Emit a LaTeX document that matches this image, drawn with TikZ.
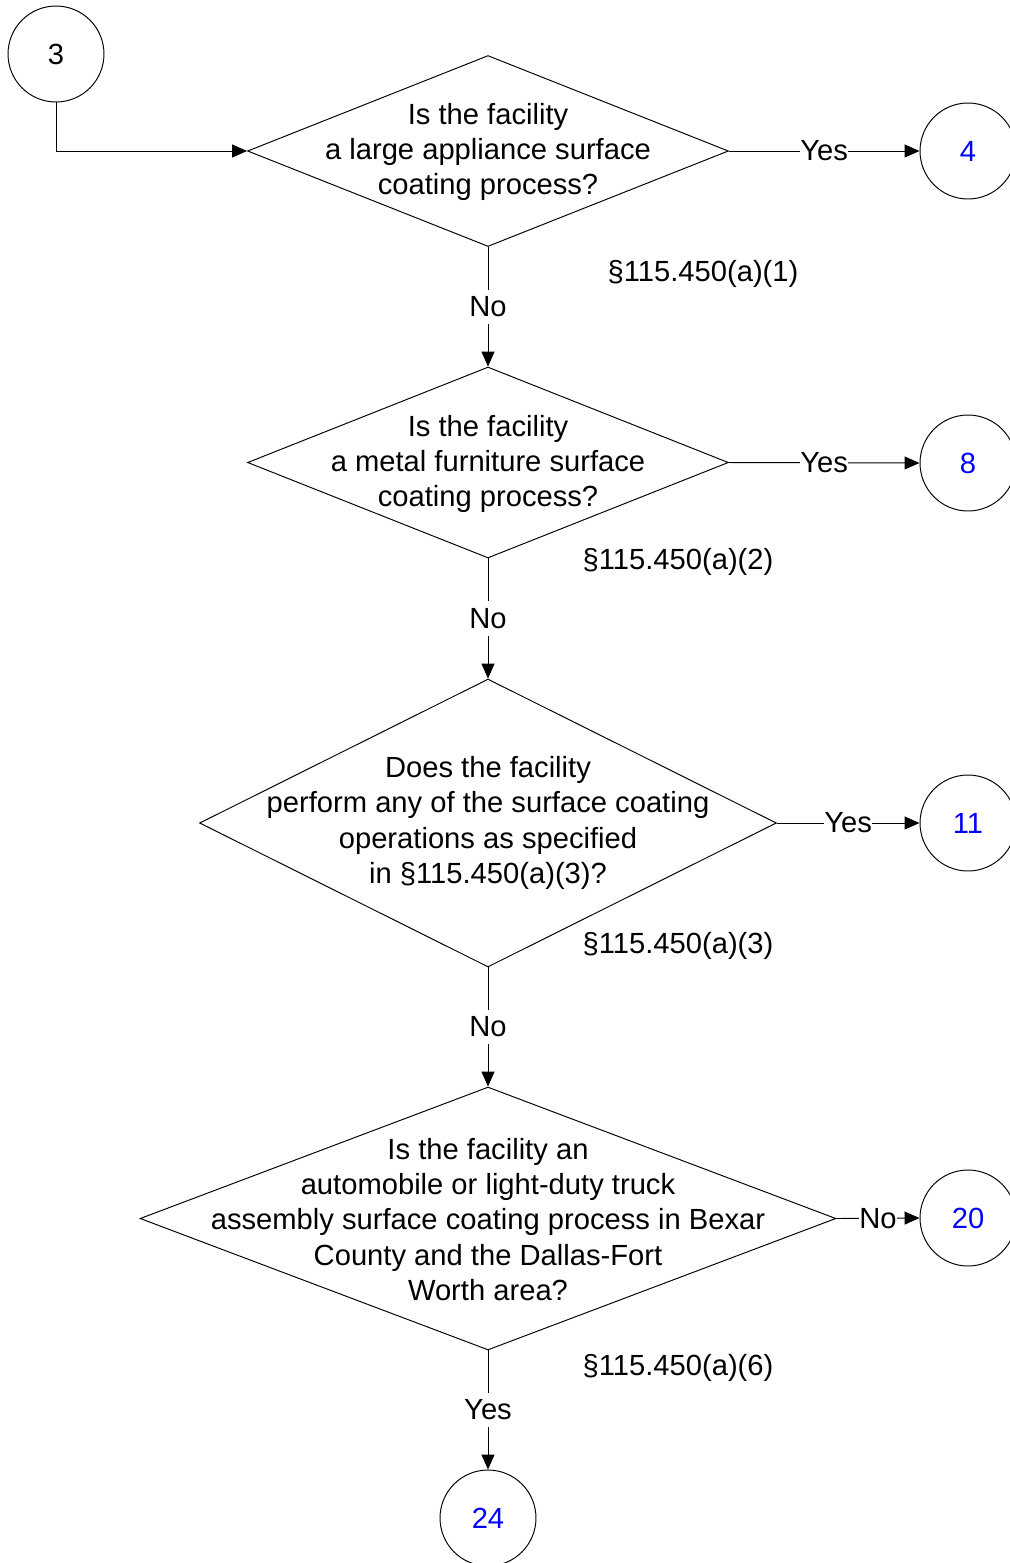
\documentclass[tikz,border=0pt]{standalone}
\usepackage{fontspec}
\setmainfont{Liberation Sans}
\usepackage{tikz}
\usetikzlibrary{shapes.geometric,arrows.meta}
\definecolor{refblue}{RGB}{0,0,255}
\tikzstyle{decision}=[diamond,draw,inner sep=0pt,line width=0.55pt]
\tikzstyle{question}=[align=center,inner sep=0pt]
\tikzstyle{offpage}=[circle,draw,minimum size=1.92cm,inner sep=0pt,line width=0.55pt]
\tikzstyle{answer}=[fill=white,inner xsep=0pt,inner ysep=4pt]
\tikzstyle{rule}=[inner sep=0pt]
\tikzstyle{flow}=[line width=0.55pt,-{Triangle[length=0.3cm,width=0.26cm]}]

\begin{document}
\begin{tikzpicture}[x=0.02cm, y=-0.02cm, font=\fontsize{16.6pt}{20.1pt}\selectfont]
      \useasboundingbox (0,0) rectangle (1009,1563);

      % off-page connectors
      \node[offpage] (c3) at (56, 54) {3};
      \node[offpage, text=refblue] (c4) at (968, 151) {4};
      \node[offpage, text=refblue] (c8) at (968, 463) {8};
      \node[offpage, text=refblue] (c11) at (968, 823) {11};
      \node[offpage, text=refblue] (c20) at (968, 1218) {20};
      \node[offpage, text=refblue] (c24) at (488, 1518) {24};

      % decisions
      \node[decision, minimum width=9.62cm, minimum height=3.82cm] (d1) at (488, 151) {};
      \node[decision, minimum width=9.62cm, minimum height=3.82cm] (d2) at (488, 462.5) {};
      \node[decision, minimum width=11.54cm, minimum height=5.76cm] (d3) at (488, 823) {};
      \node[decision, minimum width=13.92cm, minimum height=5.26cm] (d4) at (488, 1218.5) {};

      \node[question] (t1) at (488, 152) {Is the facility\\a large appliance surface\\coating process?};
      \node[question] (t2) at (488, 464) {Is the facility\\a metal furniture surface\\coating process?};
      \node[question] (t3) at (488, 823) {Does the facility\\perform any of the surface coating\\operations as specified\\in \S115.450(a)(3)?};
      \node[question] (t4) at (488, 1219.5) {Is the facility an\\automobile or light-duty truck\\assembly surface coating process in Bexar\\County and the Dallas-Fort\\Worth area?};

      % rule references
      \node[rule] (s1) at (703, 274) {\S115.450(a)(1)};
      \node[rule] (s2) at (678, 562) {\S115.450(a)(2)};
      \node[rule] (s3) at (678, 946) {\S115.450(a)(3)};
      \node[rule] (s6) at (678, 1368) {\S115.450(a)(6)};

      % connectors
      \draw[flow] (c3.south) |- (d1.west);
      \draw[flow] (d1.east) -- node[answer]{Yes} (c4.west);
      \draw[flow] (d1.south) -- node[answer]{No} (d2.north);
      \draw[flow] (d2.east) -- node[answer]{Yes} (c8.west);
      \draw[flow] (d2.south) -- node[answer]{No} (d3.north);
      \draw[flow] (d3.east) -- node[answer]{Yes} (c11.west);
      \draw[flow] (d3.south) -- node[answer]{No} (d4.north);
      \draw[flow] (d4.east) -- node[answer]{No} (c20.west);
      \draw[flow] (d4.south) -- node[answer]{Yes} (c24.north);
    \end{tikzpicture}
\end{document}
